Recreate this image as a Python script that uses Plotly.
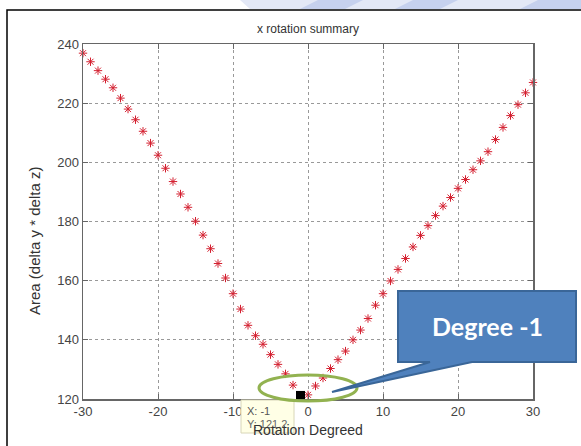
import plotly.graph_objects as go

# ---- data ----
rotation_deg = [-30, -29, -28, -27, -26, -25, -24, -23, -22, -21,
                -20, -19, -18, -17, -16, -15, -14, -13, -12, -11,
                -10, -9, -8, -7, -6, -5, -4, -3, -2, -1,
                0, 1, 2, 3, 4, 5, 6, 7, 8, 9,
                10, 11, 12, 13, 14, 15, 16, 17, 18, 19,
                20, 21, 22, 23, 24, 25, 26, 27, 28, 29, 30]
area = [236.9, 234.0, 231.0, 228.1, 225.2, 221.7, 218.0, 214.4, 210.5, 206.5,
        202.4, 198.0, 193.5, 189.3, 184.8, 180.1, 175.4, 170.8, 165.8, 160.9,
        155.6, 150.4, 144.9, 141.4, 138.5, 135.0, 131.7, 128.5, 124.7, 121.2,
        121.4, 124.4, 127.1, 130.3, 133.3, 136.2, 140.0, 143.3, 147.2, 151.7,
        155.6, 159.9, 163.8, 167.5, 171.4, 175.3, 178.6, 182.0, 185.2, 188.1,
        191.2, 194.2, 197.5, 200.5, 203.6, 207.7, 211.8, 215.8, 219.5, 223.5, 227.0]
tip_x = [-1]
tip_y = [121.2]
x_ticks = [-30, -20, -10, 0, 10, 20, 30]
x_tick_labels = ["-30", "-20", "-10", "0", "10", "20", "30"]
y_ticks = [120, 140, 160, 180, 200, 220, 240]
y_tick_labels = ["120", "140", "160", "180", "200", "220", "240"]

W, H = 581, 446
L, R, T, B = 83, 48, 44, 47
PW, PH = W - L - R, H - T - B


def px(x):
    return (x - L) / PW


def py(y):
    return (H - B - y) / PH


fig = go.Figure()
fig.add_trace(go.Scatter(
    x=rotation_deg, y=area, mode="markers",
    marker=dict(symbol="asterisk-open", size=7, color="#D42030",
                line=dict(color="#D42030", width=1)),
    cliponaxis=False, showlegend=False, hoverinfo="skip"))
fig.add_trace(go.Scatter(
    x=tip_x, y=tip_y, mode="markers",
    marker=dict(symbol="square", size=9, color="black"),
    cliponaxis=False, showlegend=False, hoverinfo="skip"))

axis_common = dict(
    showline=True, linecolor="#666666", linewidth=1.5, mirror="allticks",
    ticks="inside", ticklen=5, tickcolor="#666666",
    showgrid=True, gridcolor="#999999", griddash="dot", gridwidth=1,
    zeroline=False,
    tickfont=dict(family="Liberation Sans, Arial, sans-serif", size=13, color="#444444"),
)
fig.update_xaxes(range=[-30, 30], tickvals=x_ticks, ticktext=x_tick_labels, **axis_common)
fig.update_yaxes(range=[120, 240], tickvals=y_ticks, ticktext=y_tick_labels, **axis_common)

shapes = []
# watermark fragment at top
shapes.append(dict(type="path", xref="paper", yref="paper",
                   path=f"M {px(240)},{py(0)} L {px(581)},{py(0)} L {px(581)},{py(9)} L {px(250)},{py(9)} Z",
                   fillcolor="#E3E8F6", line=dict(width=0), layer="below"))
for a, b in [(300, 345), (395, 440), (520, 581)]:
    shapes.append(dict(type="path", xref="paper", yref="paper",
                       path=f"M {px(a)},{py(9)} L {px(a+18)},{py(0)} L {px(b+18)},{py(0)} L {px(b)},{py(9)} Z",
                       fillcolor="#C6D1EE", line=dict(width=0), layer="below"))
# outer frame
shapes.append(dict(type="rect", xref="paper", yref="paper",
                   x0=px(7), x1=px(600), y0=py(470), y1=py(10),
                   line=dict(color="black", width=1.5)))
# data tip box
shapes.append(dict(type="rect", xref="paper", yref="paper",
                   x0=px(241), x1=px(294), y0=py(433), y1=py(400),
                   fillcolor="#FFFFE6", line=dict(color="#D8D6B8", width=1)))
# green ellipse
shapes.append(dict(type="circle", xref="paper", yref="paper",
                   x0=px(259), x1=px(357), y0=py(401), y1=py(375),
                   line=dict(color="#92B250", width=3)))
# callout
pts = [(398, 291), (576, 291), (576, 362), (472, 362), (332, 392), (430, 362), (398, 362)]
path = "M " + " L ".join(f"{px(a)},{py(b)}" for a, b in pts) + " Z"
shapes.append(dict(type="path", xref="paper", yref="paper", path=path,
                   fillcolor="#4F81BD", line=dict(color="#3A6698", width=2)))


def note(text, x, y, size, color, family="Liberation Sans, Arial", xanchor="center", angle=0):
    return dict(text=text, xref="paper", yref="paper", x=px(x), y=py(y),
                xanchor=xanchor, yanchor="middle", textangle=angle, showarrow=False,
                font=dict(family=family, size=size, color=color))


annotations = [
    note("x rotation summary", 308, 29, 12, "#333333"),
    note("Area (delta y * delta z)", 35, 241, 15, "#333333", angle=-90),
    note("X: -1", 245, 411, 11, "#555555", xanchor="left"),
    note("Y: 121.2", 245, 424, 11, "#666666", xanchor="left"),
    note("Rotation Degreed", 308, 430, 14, "#333333"),
    note("<b>Degree -1</b>", 487, 326, 25, "white", family="Lato, Liberation Sans, sans-serif"),
]

fig.update_layout(
    width=W, height=H, margin=dict(l=L, r=R, t=T, b=B),
    paper_bgcolor="white", plot_bgcolor="white",
    shapes=shapes, annotations=annotations, showlegend=False,
)
fig.write_html("out.html", config={"displayModeBar": False, "staticPlot": True},
               post_script="document.body.style.margin='0';document.body.style.padding='0';document.body.style.overflow='hidden';")
